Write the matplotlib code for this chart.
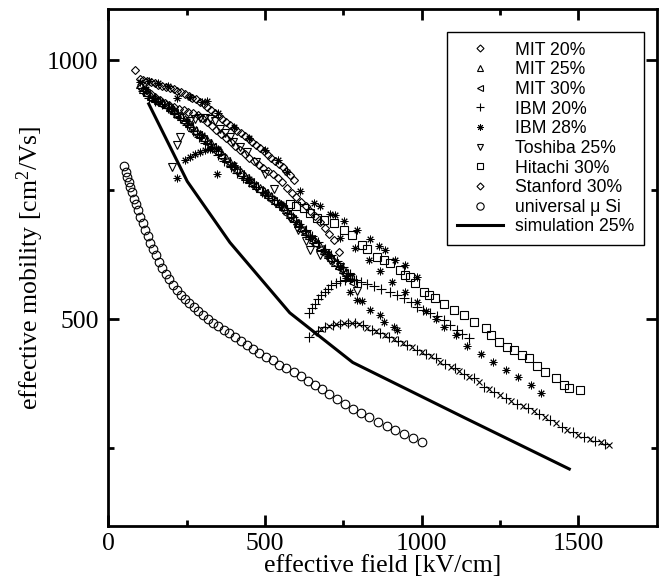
import numpy as np
import matplotlib
matplotlib.use("Agg")
import matplotlib.pyplot as plt

plt.rcParams['font.family'] = ['Liberation Serif', 'DejaVu Serif']
plt.rcParams['mathtext.fontset'] = 'custom'
plt.rcParams['mathtext.rm'] = 'Liberation Serif'
plt.rcParams['mathtext.it'] = 'Liberation Serif'

# ---- data (field in kV/cm, mobility in cm^2/Vs) ----
mit20_x = [86, 100, 112, 124, 136, 148, 160, 172, 184, 196, 208, 220, 232, 244, 256, 268, 280,
           292, 304, 316, 328, 340, 352, 364, 376, 388, 400, 412, 424, 436, 448, 460, 472, 484,
           496, 508, 520, 532, 544, 556, 568, 580, 592]
mit20_y = [981, 965, 962, 960, 958, 956, 953, 951, 948, 946, 944, 941, 938, 935, 932, 928, 925,
           920, 915, 910, 904, 898, 893, 887, 881, 875, 869, 864, 859, 853, 848, 842, 836, 830,
           824, 818, 812, 806, 800, 794, 786, 778, 768]

mit25_x = [100, 112, 124, 136, 148, 160, 172, 184, 196, 208, 220, 232, 244, 256, 268, 280, 292,
           304, 316, 328, 340, 352, 364, 376, 388, 400, 412, 424, 436, 448, 460, 472, 484, 496,
           508, 520, 532, 544, 556, 568, 580, 592, 604, 616, 628, 640, 652, 664, 676, 688, 700,
           712, 724, 736, 748, 760, 772]
mit25_y = [955, 945, 938, 932, 928, 923, 919, 915, 910, 904, 898, 892, 886, 879, 872, 865, 858,
           852, 846, 840, 833, 826, 819, 811, 804, 797, 790, 784, 777, 771, 765, 760, 754, 748,
           742, 737, 731, 725, 719, 712, 704, 696, 686, 677, 670, 662, 655, 648, 641, 633, 626,
           619, 611, 604, 597, 590, 582]

mit30_x = [106, 121, 136, 151, 166, 181, 196, 211, 226, 241, 256, 271, 286, 301, 316, 331, 346,
           361, 376, 391, 406, 421, 436, 451, 466, 481, 496, 511, 526, 541, 556, 571, 586, 601,
           616, 631, 646, 661, 676, 691, 706, 721, 736, 751, 766, 781]
mit30_y = [944, 936, 926, 921, 915, 911, 905, 898, 890, 881, 873, 864, 856, 848, 840, 832, 823,
           814, 805, 796, 788, 780, 772, 764, 757, 750, 743, 736, 729, 721, 713, 704, 694, 684,
           673, 664, 654, 645, 636, 626, 617, 608, 598, 589, 579, 570]

ibm20_x = [110, 130, 150, 170, 190, 210, 230, 250, 270, 290, 310, 330, 350, 370, 390, 410, 430,
           450, 470, 490, 510, 530, 550, 570, 590, 610, 630, 650, 670, 690, 710, 730, 750, 770,
           790, 805, 826, 847, 870, 900, 920, 943, 965, 985, 1005, 1028, 1050, 1070, 1090, 1113,
           1130, 1150]
ibm20_y = [940, 928, 922, 916, 908, 898, 888, 876, 864, 852, 841, 830, 818, 806, 794, 783, 773,
           764, 755, 746, 738, 730, 721, 710, 698, 684, 672, 660, 648, 636, 624, 612, 600, 588,
           576, 572, 568, 563, 558, 553, 547, 540, 532, 524, 518, 511, 505, 498, 489, 479,
           471, 464]
ibm20_arc_x = [640, 650, 660, 670, 680, 690, 700, 712, 725, 740, 756, 770, 785]
ibm20_arc_y = [511, 521, 530, 538, 546, 553, 559, 565, 570, 574, 576, 577, 576]

low_x = [640, 655, 668, 680, 692, 704, 716, 728, 740, 752, 764, 776, 788, 800, 812, 826, 840,
         854, 868, 882, 896, 911, 925, 939, 953, 968, 985, 1000, 1015, 1030, 1045, 1060, 1075,
         1092, 1105, 1120, 1135, 1150, 1166, 1182, 1198, 1215, 1232, 1251, 1268, 1286, 1305,
         1322, 1340, 1358, 1375, 1393, 1411, 1429, 1447, 1465, 1483, 1500, 1518, 1536, 1553,
         1571, 1585, 1598]
low_y = [466, 472, 477, 481, 484, 487, 489, 490, 491, 492, 492, 492, 492, 491, 488, 482, 479,
         476, 472, 469, 465, 462, 458, 454, 450, 446, 440, 436, 432, 429, 424, 417, 413,
         408, 405, 399, 393, 388, 386, 378, 369, 364, 358, 353, 347, 341, 336, 331, 327,
         323, 317, 310, 304, 298, 291, 285, 281, 276, 272, 268, 265, 262, 259, 256]

ibm28_x = [100, 130, 160, 190, 218, 260, 300, 314, 350, 400, 450, 500, 540, 570, 613, 655, 676,
           708, 724, 751, 794, 836, 863, 884, 916, 948, 985]
ibm28_y = [958, 960, 956, 950, 927, 930, 920, 921, 898, 872, 850, 826, 808, 785, 747, 724, 718,
           704, 701, 689, 672, 655, 641, 634, 614, 605, 582]
ibm28b_x = [740, 788, 831, 868, 905, 948, 985, 1015, 1045, 1070, 1108, 1146, 1188, 1227, 1268,
            1307, 1348, 1381]
ibm28b_y = [657, 637, 614, 592, 572, 553, 533, 515, 500, 485, 469, 448, 432, 417, 401, 388,
            372, 356]
ibm28c_x = [120, 150, 200, 250, 300, 350, 400, 450, 500, 550, 600, 650, 700, 740, 760, 772, 794,
            810, 836, 868, 879, 911, 921]
ibm28c_y = [945, 925, 908, 882, 855, 828, 797, 770, 746, 722, 688, 657, 626, 600, 580, 553, 537,
            534, 517, 508, 495, 485, 479]
ibm28d_x = [218, 245, 262, 278, 294, 310, 326, 346]
ibm28d_y = [772, 807, 814, 819, 823, 826, 828, 781]

tosh_x = [203, 219, 229, 260, 276, 292, 308, 324, 340, 357, 372, 388, 399, 420, 442, 470, 500,
          530, 552, 580, 606, 630, 645, 677, 708, 740, 772, 794]
tosh_y = [794, 836, 851, 882, 886, 888, 888, 886, 882, 868, 860, 852, 842, 832, 822, 803, 780,
          752, 716, 695, 673, 650, 634, 624, 614, 601, 582, 555]

hit_x = [580, 600, 623, 645, 666, 687, 719, 751, 778, 810, 826, 858, 880, 900, 932, 948, 964,
         980, 1006, 1022, 1044, 1070, 1102, 1134, 1166, 1204, 1220, 1246, 1273, 1294, 1321,
         1342, 1369, 1395, 1427, 1454, 1470, 1504]
hit_y = [722, 719, 714, 705, 695, 692, 685, 672, 663, 644, 636, 620, 614, 609, 595, 585, 582,
         569, 553, 546, 540, 530, 517, 507, 495, 482, 469, 456, 446, 440, 430, 424, 410, 398,
         385, 372, 366, 362]

stan_x = [105, 120, 135, 150, 165, 180, 195, 210, 225, 240, 255, 270, 285, 300, 315, 330, 345,
          360, 375, 390, 405, 420, 435, 450, 465, 480, 495, 510, 525, 540, 555, 570, 585, 600,
          615, 630, 645, 660, 675, 690, 705, 720, 735]
stan_y = [948, 942, 936, 930, 924, 918, 913, 910, 907, 904, 901, 898, 895, 889, 881, 873, 865,
          857, 850, 842, 834, 827, 820, 812, 805, 798, 792, 787, 780, 772, 764, 754, 744, 735,
          727, 718, 708, 700, 688, 676, 664, 652, 630]

uni_x = [50, 55, 60, 65, 70, 76, 82, 88, 95, 102, 110, 118, 126, 134, 143, 152, 162, 172, 183,
         194, 206, 218, 231, 244, 258, 272, 287, 302, 318, 334, 351, 368, 386, 404, 423, 442,
         462, 482, 503, 524, 546, 568, 591, 614, 636, 658, 681, 705, 729, 754, 780, 806, 833,
         860, 888, 916, 944, 972, 1001]
uni_y = [796, 785, 775, 765, 756, 745, 733, 722, 710, 698, 685, 672, 660, 647, 635, 623, 611,
         599, 588, 577, 566, 556, 547, 539, 531, 523, 515, 508, 500, 493, 486, 479, 472, 465,
         457, 450, 442, 435, 427, 420, 412, 405, 397, 389, 381, 373, 364, 355, 346, 336, 326,
         318, 310, 301, 293, 286, 278, 270, 262]

sim_x = [129, 252, 388, 579, 780, 1137, 1471]
sim_y = [916, 766, 648, 512, 416, 309, 210]

fig = plt.figure(figsize=(6.67, 5.79), dpi=100)
ax = fig.add_axes([0.1624, 0.0917, 0.8222, 0.8933])

kw = dict(linestyle='none', markerfacecolor='none', markeredgecolor='black',
          markeredgewidth=0.8, color='black')
ast = dict(kw, markeredgewidth=0.7)
ax.plot(mit20_x, mit20_y, marker='D', markersize=4.2, label='MIT 20%', **kw)
ax.plot(mit25_x, mit25_y, marker='^', markersize=5.5, label='MIT 25%', **kw)
ax.plot(mit30_x, mit30_y, marker='<', markersize=5.5, label='MIT 30%', **kw)
ax.plot(ibm20_x, ibm20_y, marker='+', markersize=6.5, label='IBM 20%', **kw)
ax.plot(ibm20_arc_x, ibm20_arc_y, marker='+', markersize=6.5, **kw)
ax.plot(low_x[::2], low_y[::2], marker='+', markersize=6.5, **kw)
ax.plot(low_x[1::2], low_y[1::2], marker='x', markersize=5, **kw)
ax.plot(ibm28_x, ibm28_y, marker=(8, 2, 0), markersize=5.5, label='IBM 28%', **ast)
ax.plot(ibm28b_x, ibm28b_y, marker=(8, 2, 0), markersize=5.5, **ast)
ax.plot(ibm28c_x, ibm28c_y, marker=(8, 2, 0), markersize=5.5, **ast)
ax.plot(ibm28d_x, ibm28d_y, marker=(8, 2, 0), markersize=5.5, **ast)
ax.plot(tosh_x, tosh_y, marker='v', markersize=5.5, label='Toshiba 25%', **kw)
ax.plot(hit_x, hit_y, marker='s', markersize=5.5, label='Hitachi 30%', **kw)
ax.plot(stan_x, stan_y, marker='D', markersize=4.2, label='Stanford 30%', **kw)
ax.plot(uni_x, uni_y, marker='o', markersize=6.2, label='universal \u03bc Si', **kw)
ax.plot(sim_x, sim_y, color='black', linewidth=2.2, label='simulation 25%')

ax.set_xlim(0, 1750)
ax.set_ylim(100, 1100)
ax.set_xticks([0, 500, 1000, 1500])
ax.set_xticks([250, 750, 1250], minor=True)
ax.set_yticks([500, 1000])
ax.set_yticks([250, 750], minor=True)
ax.tick_params(which='both', direction='in', top=True, right=True, width=2,
               labelsize=18.5)
ax.tick_params(axis='x', pad=5)
ax.tick_params(axis='y', pad=7)
ax.tick_params(which='major', length=8)
ax.tick_params(which='minor', length=4.5)
for s in ax.spines.values():
    s.set_linewidth(2)

ax.set_xlabel('effective field [kV/cm]', fontsize=18.5, labelpad=0)
ax.set_ylabel(r'effective mobility [cm$^{2}$/Vs]', fontsize=18.5, labelpad=1)

leg = ax.legend(loc='upper right', bbox_to_anchor=(0.977, 0.955), borderaxespad=0,
                prop={'family': 'Liberation Sans', 'size': 12.7}, fancybox=False,
                edgecolor='black', framealpha=1, labelspacing=0.15, borderpad=0.55,
                handlelength=2.6, handletextpad=0.7, markerscale=0.85)
leg.get_frame().set_linewidth(1.0)

fig.savefig('out.png', dpi=100)
